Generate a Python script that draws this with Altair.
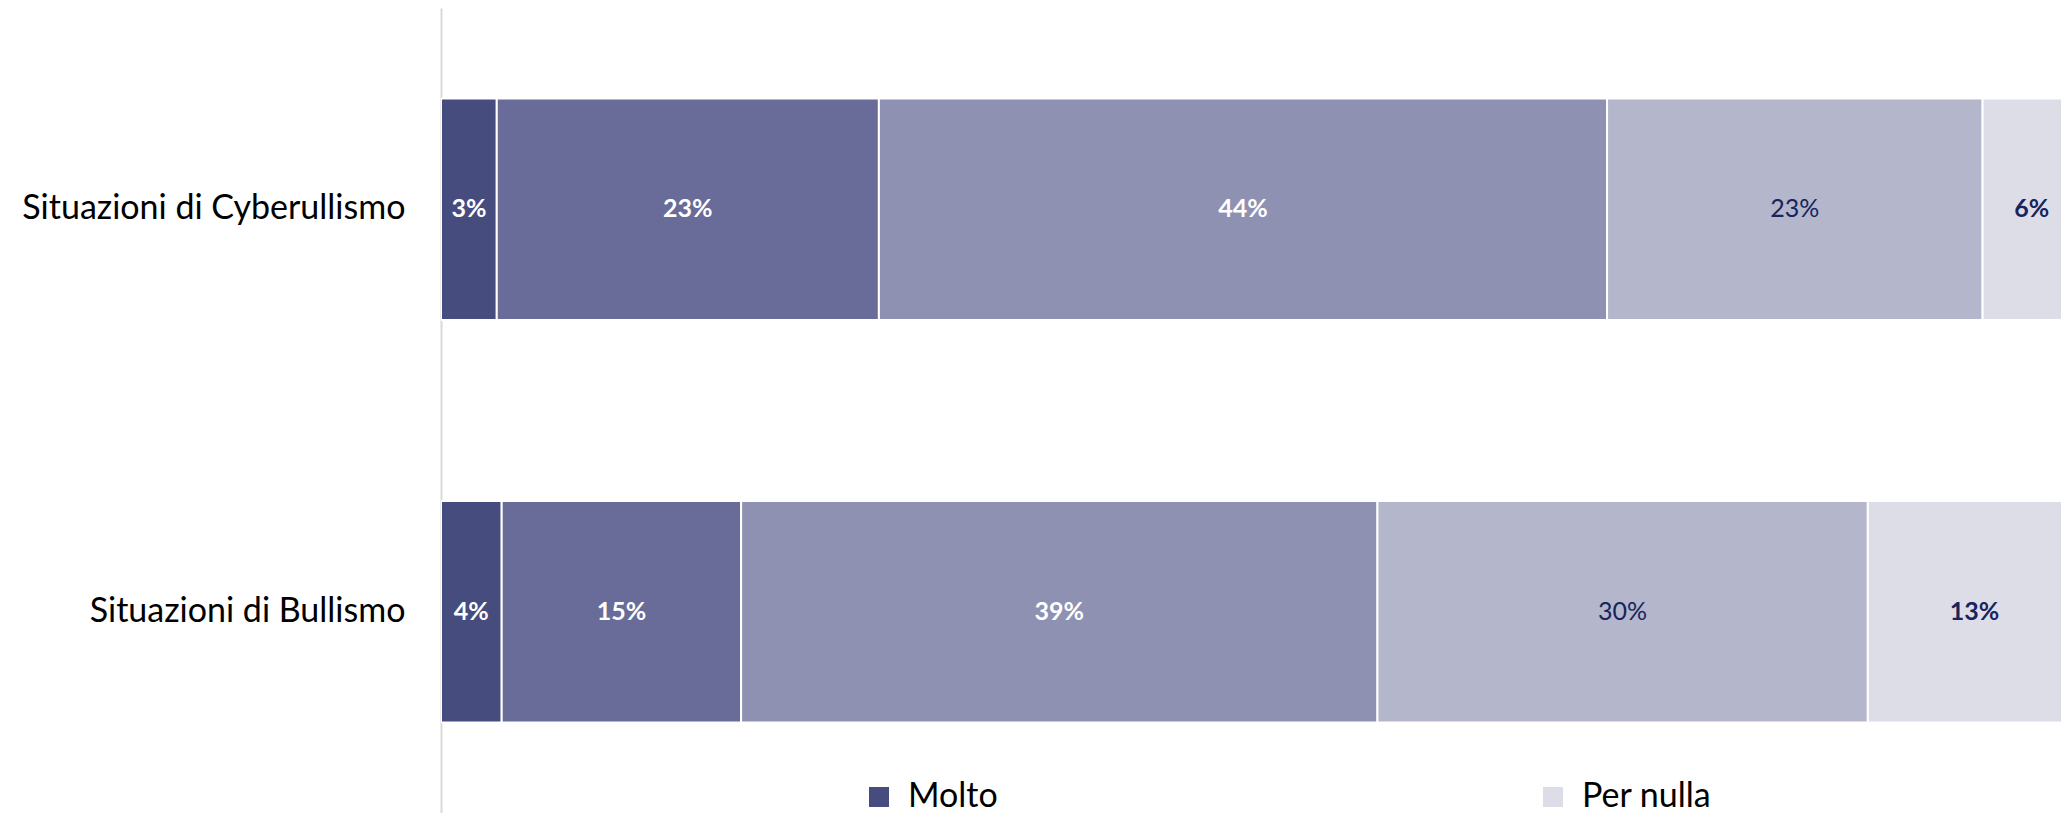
import altair as alt
import pandas as pd

categories = ["Situazioni di Cyberullismo", "Situazioni di Bullismo"]
levels = ["Molto", "Abbastanza", "Né molto né poco", "Poco", "Per nulla"]
cyber_values = [3.4, 23.3, 44.4, 22.9, 6.0]
bull_values = [3.7, 14.6, 38.8, 29.9, 13.0]
cyber_labels = ["3%", "23%", "44%", "23%", "6%"]
bull_labels = ["4%", "15%", "39%", "30%", "13%"]
colors = ["#474C7E", "#696C98", "#8E91B1", "#B4B6CB", "#DDDDE7"]
label_styles = ["white_bold", "white_bold", "white_bold", "navy_normal", "navy_bold"]
legend_levels = ["Molto", "Per nulla"]

rows = []
for cat, vals, labs in [(categories[0], cyber_values, cyber_labels),
                        (categories[1], bull_values, bull_labels)]:
    for i, (lev, v, lab) in enumerate(zip(levels, vals, labs)):
        rows.append({"categoria": cat, "livello": lev, "ordine": i,
                     "valore": v, "etichetta": lab, "stile": label_styles[i]})
df = pd.DataFrame(rows)

base = alt.Chart(df).transform_window(
    fine="sum(valore)", sort=[alt.SortField("ordine")], groupby=["categoria"], frame=[None, 0]
).transform_calculate(
    inizio="datum.fine - datum.valore",
    centro="datum.fine - datum.valore / 2",
)

x_scale = alt.Scale(domain=[0, 98.78], nice=False, zero=False)
y_enc = alt.Y(
    "categoria:N", sort=categories,
    scale=alt.Scale(paddingInner=0.45, paddingOuter=0.225),
    axis=alt.Axis(title=None, ticks=False, labelFont="Lato", labelFontSize=34,
                  labelColor="#000000", labelPadding=36, labelLimit=1000,
                  domainColor="#D9D9D9", domainWidth=2, grid=False),
)

bars = base.mark_bar(clip=True, stroke="white", strokeWidth=2).encode(
    x=alt.X("inizio:Q", scale=x_scale, axis=None),
    x2="fine:Q",
    y=y_enc,
    color=alt.Color(
        "livello:N",
        scale=alt.Scale(domain=levels, range=colors),
        legend=alt.Legend(values=legend_levels, title=None, orient="none",
                          legendX=421, legendY=772, direction="horizontal",
                          symbolType="square", symbolSize=400, symbolStrokeWidth=0,
                          labelFont="Lato", labelFontSize=34, labelColor="#000000",
                          labelOffset=12, columnPadding=538),
    ),
    order="ordine:Q",
)


def text_layer(style, color, weight):
    return base.transform_filter(alt.datum.stile == style).mark_text(
        font="Lato", fontSize=25, fontWeight=weight, color=color,
        baseline="middle", align="center", clip=True,
    ).encode(
        x=alt.X("centro:Q", scale=x_scale, axis=None),
        y=y_enc,
        text="etichetta:N",
    )


chart = alt.layer(
    bars,
    text_layer("white_bold", "#FFFFFF", "bold"),
    text_layer("navy_bold", "#17245E", "bold"),
    text_layer("navy_normal", "#17245E", "normal"),
).properties(
    width=1620, height=805,
    padding={"left": 433, "top": 0, "right": 0, "bottom": 0},
    autosize=alt.AutoSizeParams(type="none"),
    background="white",
).configure_view(stroke=None)

chart.save("out.html", embed_options={"renderer": "svg", "actions": False})
